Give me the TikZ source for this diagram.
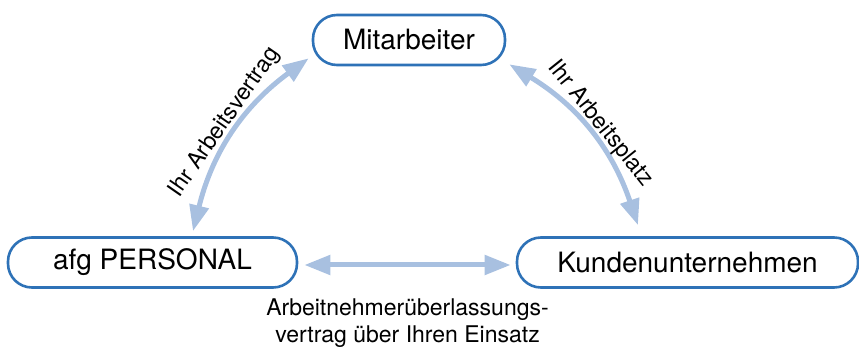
\documentclass[tikz,border=0pt]{standalone}
\usepackage{fontspec}
\setmainfont{TeX Gyre Heros}
\usetikzlibrary{arrows.meta,positioning}
\definecolor{boxblue}{RGB}{46,114,183}
\definecolor{arrowblue}{RGB}{168,192,224}
\tikzset{>={Triangle[length=26pt,width=19pt]}}

\begin{document}
\begin{tikzpicture}[x=1pt,y=-1pt,
                    party/.style={draw=boxblue, line width=2.6pt, rounded corners=24pt,
                                  minimum height=50pt, inner sep=0pt,
                                  font=\fontsize{28}{34}\selectfont},
                    conn/.style={arrowblue, line width=5pt, <->},
                    lbl/.style={font=\fontsize{23}{27}\selectfont, text=black},
                   ]

\useasboundingbox (0,0) rectangle (859,347);

\node[party, minimum width=192pt] (mitarb) at (409,40) {Mitarbeiter};
\node[party, minimum width=289pt] (personal) at (152.5,262.5) {afg PERSONAL};
\node[party, minimum width=341pt] (kunde) at (687.5,262.5) {Kundenunternehmen};

% Vertraege
\draw[conn] ([shift={(-3,-8)}]mitarb.south west) to[bend right=20]
    node[lbl, sloped, above, pos=0.48, inner sep=0pt] {Ihr Arbeitsvertrag}
    ([shift={(40.5,-5)}]personal.north);
\draw[conn] ([shift={(3,-2)}]mitarb.south east) to[bend left=20]
    node[lbl, sloped, above, pos=0.5, inner sep=0pt] {Ihr Arbeitsplatz}
    ([shift={(-49.5,-11)}]kunde.north);
\draw[conn] ([shift={(6,2.5)}]personal.east) -- ([shift={(-5,2.5)}]kunde.west)
    node[lbl, midway, below=31pt, align=center, inner sep=0pt]
    {Arbeitnehmerüberlassungs-\\vertrag über Ihren Einsatz};

\end{tikzpicture}
\end{document}
